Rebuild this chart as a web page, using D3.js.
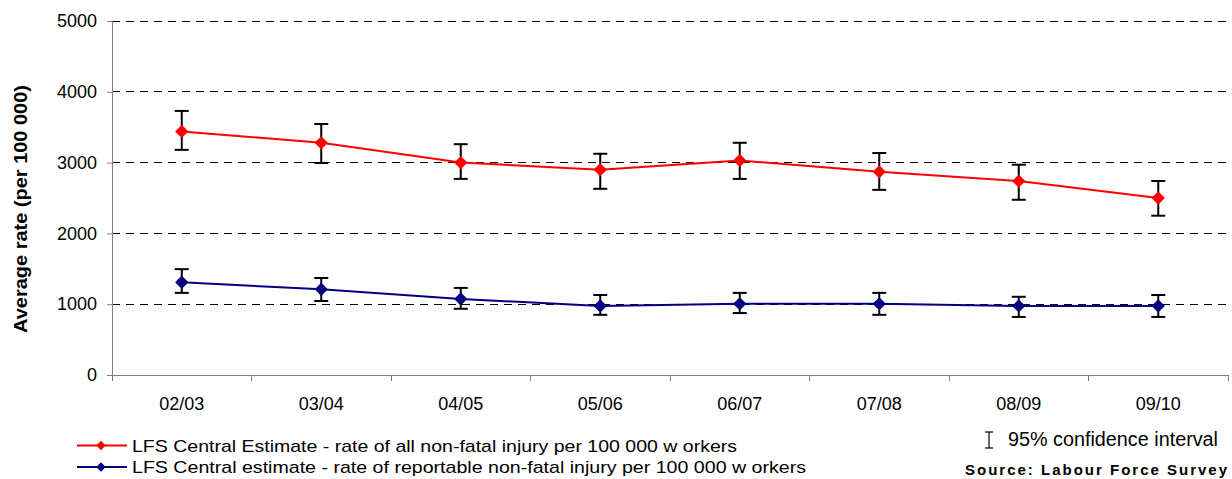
<!DOCTYPE html>
<html>
<head>
<meta charset="utf-8">
<script src="https://cdn.jsdelivr.net/npm/d3@7"></script>
<style>
  body { margin: 0; background: #fff; }
  text { font-family: "Liberation Sans", Arial, sans-serif; fill: #000; }
</style>
</head>
<body>
<div id="chart"></div>
<script>
// data
var years = ["02/03", "03/04", "04/05", "05/06", "06/07", "07/08", "08/09", "09/10"];
var allRate   = [3440, 3280, 3000, 2900, 3030, 2870, 2740, 2500];
var allLow    = [3180, 2995, 2770, 2630, 2770, 2615, 2475, 2250];
var allHigh   = [3730, 3545, 3260, 3125, 3280, 3135, 2970, 2740];
var repRate   = [1310, 1210, 1075, 975, 1005, 1005, 975, 975];
var repLow    = [1160, 1045, 935, 850, 875, 850, 820, 820];
var repHigh   = [1495, 1370, 1230, 1130, 1160, 1160, 1105, 1130];
var yTicks = [0, 1000, 2000, 3000, 4000, 5000];
var legendLabels = [
  "LFS Central Estimate - rate of all non-fatal injury per 100 000 w orkers",
  "LFS Central estimate - rate of reportable non-fatal injury per 100 000 w orkers"
];

var W = 1232, H = 479;
var margin = {top: 21, right: 4, bottom: 104, left: 112};
var width = W - margin.left - margin.right,
    height = H - margin.top - margin.bottom;
var font = "'Liberation Sans', Arial, sans-serif";

var svg = d3.select("#chart").append("svg")
    .attr("width", W).attr("height", H);
var g = svg.append("g")
    .attr("transform", "translate(" + margin.left + "," + margin.top + ")");

var x = d3.scaleBand().domain(years).range([0, width]);
var y = d3.scaleLinear().domain([0, 5000]).range([height, 0]);

// dashed gridlines
g.selectAll(".grid").data(yTicks.filter(function(d) { return d > 0; }))
  .enter().append("line")
  .attr("x1", 0).attr("x2", width)
  .attr("y1", function(d) { return y(d); })
  .attr("y2", function(d) { return y(d); })
  .attr("stroke", "#000").attr("stroke-width", 1)
  .attr("stroke-dasharray", "8,6")
  .attr("shape-rendering", "crispEdges");

// y axis
var yAxis = g.append("g")
  .call(d3.axisLeft(y).tickValues(yTicks).tickSize(5).tickPadding(10).tickFormat(d3.format("d")));
yAxis.select(".domain").attr("stroke", "#808080");
yAxis.selectAll(".tick line").attr("stroke", "#808080");
yAxis.selectAll("text").style("font-size", "18px").style("font-family", font);

// x axis, ticks on category boundaries
var xAxis = g.append("g").attr("transform", "translate(0," + height + ")")
  .call(d3.axisBottom(x).tickSize(0).tickPadding(22));
xAxis.select(".domain").attr("stroke", "#808080");
xAxis.selectAll("text").style("font-size", "18px").style("font-family", font);
var bounds = years.map(function(d) { return x(d); }).concat([width]);
xAxis.selectAll(".bound").data(bounds).enter().append("line")
  .attr("x1", function(d) { return d; }).attr("x2", function(d) { return d; })
  .attr("y1", 0).attr("y2", 6).attr("stroke", "#808080")
  .attr("shape-rendering", "crispEdges");

// y axis title
svg.append("text")
  .attr("transform", "translate(27,209) rotate(-90)")
  .attr("text-anchor", "middle")
  .attr("textLength", 248).attr("lengthAdjust", "spacingAndGlyphs")
  .style("font-size", "18px").style("font-weight", "bold")
  .text("Average rate (per 100 000)");

var cx = function(i) { return x(years[i]) + x.bandwidth() / 2; };
var marker = d3.symbol().type(d3.symbolSquare);

function drawSeries(vals, lows, highs, colour) {
  var line = d3.line()
    .x(function(d, i) { return cx(i); })
    .y(function(d) { return y(d); });

  // error bars
  var eb = g.append("g");
  vals.forEach(function(v, i) {
    eb.append("line").attr("x1", cx(i)).attr("x2", cx(i))
      .attr("y1", y(lows[i])).attr("y2", y(highs[i]))
      .attr("stroke", "#000").attr("stroke-width", 2);
    [lows[i], highs[i]].forEach(function(e) {
      eb.append("line").attr("x1", cx(i) - 7).attr("x2", cx(i) + 7)
        .attr("y1", y(e)).attr("y2", y(e))
        .attr("stroke", "#000").attr("stroke-width", 2);
    });
  });

  g.append("path").datum(vals)
    .attr("d", line).attr("fill", "none")
    .attr("stroke", colour).attr("stroke-width", 2);

  g.selectAll(null).data(vals).enter().append("path")
    .attr("d", marker.size(88))
    .attr("transform", function(d, i) {
      return "translate(" + cx(i) + "," + y(d) + ") rotate(45)";
    })
    .attr("fill", colour);
}

drawSeries(allRate, allLow, allHigh, "#ff0000");
drawSeries(repRate, repLow, repHigh, "#000080");

// legend
var legend = svg.append("g");
var legColours = ["#ff0000", "#000080"];
var legLengths = [605, 674];
legendLabels.forEach(function(lab, i) {
  var ly = 445.5 + i * 21.5;
  legend.append("line").attr("x1", 77).attr("x2", 127)
    .attr("y1", ly).attr("y2", ly)
    .attr("stroke", legColours[i]).attr("stroke-width", 2);
  legend.append("path")
    .attr("d", marker.size(45))
    .attr("transform", "translate(101," + ly + ") rotate(45)")
    .attr("fill", legColours[i]);
  legend.append("text").attr("x", 132).attr("y", ly + 6)
    .style("font-size", "17px")
    .attr("textLength", legLengths[i]).attr("lengthAdjust", "spacingAndGlyphs")
    .text(lab);
});

// confidence interval key
var ci = svg.append("g");
ci.append("line").attr("x1", 989).attr("x2", 989).attr("y1", 432).attr("y2", 448)
  .attr("stroke", "#000").attr("stroke-width", 1.2);
ci.append("line").attr("x1", 985).attr("x2", 993).attr("y1", 432).attr("y2", 432)
  .attr("stroke", "#000").attr("stroke-width", 1.2);
ci.append("line").attr("x1", 985).attr("x2", 993).attr("y1", 448).attr("y2", 448)
  .attr("stroke", "#000").attr("stroke-width", 1.2);
ci.append("text").attr("x", 1008).attr("y", 446)
  .attr("textLength", 210).attr("lengthAdjust", "spacingAndGlyphs")
  .style("font-size", "19.5px").text("95% confidence interval");

svg.append("text").attr("x", 965).attr("y", 475)
  .attr("textLength", 262).attr("lengthAdjust", "spacing")
  .style("font-size", "15px").style("font-weight", "bold")
  .text("Source: Labour Force Survey");
</script>
</body>
</html>
